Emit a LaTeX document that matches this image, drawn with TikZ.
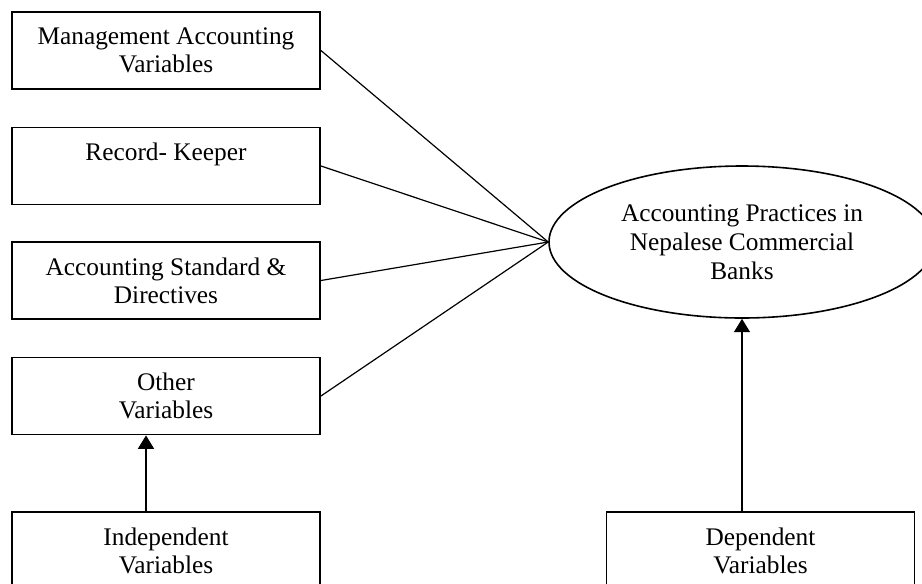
\documentclass[tikz,border=0pt]{standalone}
\usepackage{fontspec}
\setmainfont{Liberation Serif}
\usetikzlibrary{arrows.meta,positioning,shapes.geometric}

\begin{document}
\begin{tikzpicture}[>={Triangle[width=12pt,length=10pt]},x=0.75pt,y=-0.75pt,
varbox/.style={rectangle,draw,line width=1.4pt,minimum width=231pt,minimum height=57.75pt,inner sep=0pt,align=center,font=\fontsize{19}{21}\selectfont},
outcome/.style={ellipse,draw,line width=1.2pt,minimum width=289.5pt,minimum height=114pt,inner sep=0pt,align=center,font=\fontsize{19}{21.75}\selectfont},
link/.style={line width=0.9pt}]

\clip (0,0) rectangle (922,583);

\node[varbox] (mav) at (166,50.5) {Management Accounting\\Variables};
\node[varbox] (rk) at (166,166) {Record- Keeper\\~};
\node[varbox] (asd) at (166,280.5) {Accounting Standard \&\\Directives};
\node[varbox] (ov) at (166,396) {Other\\Variables};
\node[varbox] (indep) at (166,550.5) {Independent\\Variables};
\node[varbox] (dep) at (760.5,550.5) {Dependent\\Variables};
\node[outcome] (acp) at (742,242) {Accounting Practices in\\Nepalese Commercial\\Banks};

\draw[link] (mav.east)--(acp.west);
\draw[link] (rk.east)--(acp.west);
\draw[link] (asd.east)--(acp.west);
\draw[link] (ov.east)--(acp.west);
\draw[link,->] ([xshift=-15pt]indep.north)--([xshift=-15pt]ov.south);
\draw[link,->] (dep.north -| acp.south)--(acp.south);
\end{tikzpicture}
\end{document}
